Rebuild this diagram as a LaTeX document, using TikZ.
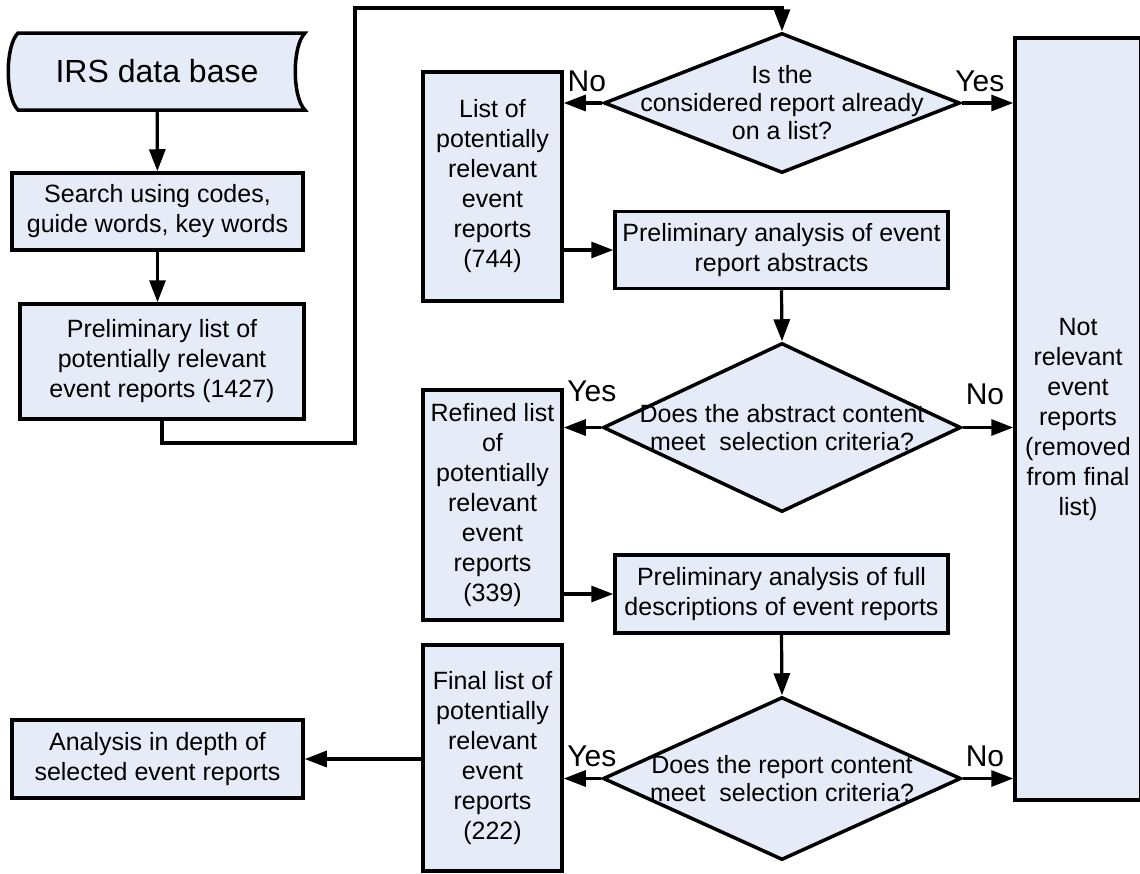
\documentclass[tikz,border=0pt]{standalone}
\usepackage{fontspec}
\setmainfont{Liberation Sans}
\usepackage{tikz}
\usetikzlibrary{arrows.meta,shapes.geometric}

\definecolor{boxfill}{RGB}{229,236,247}

\begin{document}
\begin{tikzpicture}[x=1pt,y=-1pt,>={Triangle[length=22pt,width=16pt]},
                    line width=3.2pt]
  \tikzstyle{box}=[rectangle,draw=black,fill=boxfill,line width=3.5pt,inner sep=0pt,
                   align=center,font=\fontsize{25}{30}\selectfont]
  \tikzstyle{tall}=[box,minimum width=139pt]
  \tikzstyle{wide}=[box,minimum width=333pt,minimum height=77pt]
  \tikzstyle{decision}=[diamond,draw=black,fill=boxfill,line width=3.5pt,inner sep=0pt]
  \tikzstyle{dtext}=[align=center,inner sep=0pt,font=\fontsize{25}{28}\selectfont]
  \tikzstyle{lbl}=[above=7pt,inner sep=3pt,font=\fontsize{30}{36}\selectfont]

  \useasboundingbox (0,0) rectangle (1140,873);

  % stored data outline
  \draw[line width=3.5pt,fill=boxfill] (18,33) -- (305,33)
        .. controls (292,46) and (292,97) .. (305,110) -- (18,110)
        .. controls (5,97) and (5,46) .. cycle;
  \node[inner sep=0pt,minimum width=296pt,minimum height=77pt,
        font=\fontsize{32}{38}\selectfont] (irs) at (157,71.5) {IRS data base};

  \node[box,minimum width=291pt,minimum height=77pt] (search) at (157.5,211.5)
        {Search using codes,\\guide words, key words};
  \node[box,minimum width=284pt,minimum height=115pt] (prelist) at (162,361.5)
        {Preliminary list of\\potentially relevant\\event reports (1427)};
  \node[box,minimum width=291pt,minimum height=78pt] (analysis) at (157.5,759)
        {Analysis in depth of\\selected event reports};

  \node[tall,minimum height=229pt] (list) at (492.5,186.5)
        {List of\\potentially\\relevant\\event\\reports\\(744)};
  \node[tall,minimum height=230pt] (refined) at (492.5,505)
        {Refined list\\of\\potentially\\relevant\\event\\reports\\(339)};
  \node[tall,minimum height=226pt] (final) at (492.5,758)
        {Final list of\\potentially\\relevant\\event\\reports\\(222)};

  \node[wide] (abstr) at (781.5,250) {Preliminary analysis of event\\report abstracts};
  \node[wide,minimum height=78pt] (full) at (781.5,594)
        {Preliminary analysis of full\\descriptions of event reports};

  \node[decision,minimum width=356pt,minimum height=140pt] (q1) at (782,103) {};
  \node[dtext] (q1t) at (q1) {Is the\\considered report already\\on a list?};
  \node[decision,minimum width=358pt,minimum height=169pt] (q2) at (782,427.5) {};
  \node[dtext] (q2t) at (q2) {Does the abstract content\\meet\ \ selection criteria?};
  \node[decision,minimum width=358pt,minimum height=163pt] (q3) at (782,778.5) {};
  \node[dtext] (q3t) at (q3) {Does the report content\\meet\ \ selection criteria?};

  \node[box,minimum width=126pt,minimum height=762pt] (notrel) at (1078,419)
        {Not\\relevant\\event\\reports\\(removed\\from final\\list)};

  \coordinate (c1) at (355,443);
  \coordinate (c2) at (355,8);

  \draw[->] (prelist.south) |- (c1) -- (c2) -| (q1.north);

  \path[->] (irs) edge (search)
        (search.south) edge (search.south |- prelist.north)
        (q1.west) edge node[lbl,pos=0.4] {No} (q1.west -| list.east)
        (q1.east) edge node[lbl,pos=0.35] {Yes} (q1.east -| notrel.west)
        (list.east |- abstr.west) edge (abstr.west)
        (abstr.south) edge (q2.north)
        (q2.west) edge node[lbl,pos=0.25,above=14pt] {Yes} (q2.west -| refined.east)
        (q2.east) edge node[lbl,pos=0.44,above=11pt] {No} (q2.east -| notrel.west)
        (refined.east |- full.west) edge (full.west)
        (full.south) edge (q3.north)
        (q3.west) edge node[lbl,pos=0.25] {Yes} (q3.west -| final.east)
        (q3.east) edge node[lbl,pos=0.44] {No} (q3.east -| notrel.west)
        (final.west |- analysis.east) edge (analysis.east);
\end{tikzpicture}
\end{document}
